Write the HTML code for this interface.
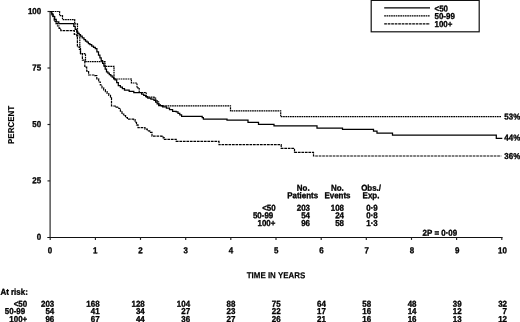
<!DOCTYPE html>
<html><head><meta charset="utf-8"><title>Survival by group</title>
<style>html,body{margin:0;padding:0;background:#fff}svg{display:block}text{font-family:"Liberation Sans",Arial,sans-serif;font-weight:bold;font-size:7.8px;text-rendering:geometricPrecision;fill:#000;stroke:#000;stroke-width:.3px}.e{text-anchor:end}.m{text-anchor:middle}</style>
</head><body>
<svg width="520" height="322" viewBox="0 0 520 322">
<rect width="520" height="322" fill="#fff"/>
<g stroke="#222" stroke-width="1.15" fill="none">
<path d="M50.1 11.5V237.5"/>
<path d="M47.3 237.45H502.6" stroke="#111"/>
<path d="M47.5 11.5H50.1"/>
<path d="M47.5 68.0H50.1"/>
<path d="M47.5 124.5H50.1"/>
<path d="M47.5 180.9H50.1"/>
<path d="M50.2 237.4V239.9"/>
<path d="M95.4 237.4V239.9"/>
<path d="M140.5 237.4V239.9"/>
<path d="M185.7 237.4V239.9"/>
<path d="M230.8 237.4V239.9"/>
<path d="M276.0 237.4V239.9"/>
<path d="M321.2 237.4V239.9"/>
<path d="M366.3 237.4V239.9"/>
<path d="M411.5 237.4V239.9"/>
<path d="M456.6 237.4V239.9"/>
<path d="M501.8 237.4V239.9"/>
</g>
<polyline points="50.2,11.5 59.6,11.5 59.6,15.7 62.5,15.7 62.5,19.6 74.7,19.6 74.7,23.9 76.6,23.9 77.5,23.9 77.5,36.0 79.8,36.0 79.8,40.0 79.8,47.0 80.5,47.0 80.5,53.6 84.8,53.6 84.8,54.8 85.5,54.8 85.5,61.7 105.0,61.7 105.0,66.4 114.0,66.4 114.0,79.0 131.4,79.0 131.4,83.0 137.0,83.0 137.0,87.9 139.2,87.9 139.2,92.5 146.2,92.5 146.2,97.2 154.0,97.2 154.0,98.0 155.6,98.0 155.6,100.0 157.1,100.0 157.1,101.9 158.6,101.9 158.6,103.8 160.2,103.8 160.2,105.8 230.5,105.8 230.5,110.9 280.7,110.9 280.7,116.7 501.5,116.7" fill="none" stroke="#000" stroke-width="1.2" stroke-dasharray="1.7 0.6"/>
<polyline points="50.2,11.5 52.2,11.5 52.2,16.4 54.2,16.4 54.2,21.3 55.9,21.3 55.9,23.6 57.5,23.6 57.5,26.0 59.1,26.0 59.1,28.3 60.8,28.3 60.8,30.6 72.4,30.6 74.3,30.6 74.3,34.4 76.7,34.4 76.7,36.0 77.4,36.0 77.4,38.0 77.4,47.0 79.4,47.0 79.4,49.4 80.5,49.4 80.5,53.6 82.4,53.6 82.4,60.2 84.8,60.2 84.8,67.2 86.7,67.2 86.7,71.1 88.6,71.1 88.6,75.0 94.8,75.0 94.8,75.7 96.8,75.7 96.8,78.8 98.7,78.8 98.7,82.0 100.3,82.0 100.3,85.0 102.0,85.0 102.0,87.9 103.7,87.9 103.7,89.8 105.4,89.8 105.4,91.6 107.1,91.6 107.1,93.5 108.8,93.5 108.8,95.3 110.5,95.3 110.5,97.2 111.5,97.2 111.5,106.0 115.2,106.0 115.2,107.2 118.8,107.2 118.8,108.5 120.4,108.5 120.4,111.2 122.0,111.2 122.0,114.0 123.8,114.0 123.8,115.7 125.6,115.7 125.6,117.5 127.4,117.5 127.4,119.2 133.6,119.2 133.6,119.6 135.1,119.6 135.1,122.3 136.5,122.3 136.5,124.9 138.0,124.9 138.0,127.6 145.0,127.6 145.0,129.2 147.3,129.2 147.3,130.8 149.7,130.8 149.7,132.3 152.0,132.3 152.0,136.2 162.0,136.2 162.0,136.4 163.2,136.4 163.2,137.9 164.4,137.9 164.4,139.3 176.2,139.3 176.2,141.3 219.0,141.3 219.0,144.7 281.2,144.7 281.2,148.4 294.5,148.4 294.5,152.3 313.5,152.3 313.5,156.0 501.3,156.0" fill="none" stroke="#000" stroke-width="1.2" stroke-dasharray="2.7 0.8"/>
<polyline points="50.2,11.5 51.7,11.5 51.7,14.1 53.2,14.1 53.2,16.7 54.7,16.7 54.7,19.3 56.2,19.3 56.2,21.9 58.8,21.9 58.8,23.6 72.4,23.6 73.8,23.6 73.8,26.4 75.2,26.4 75.2,29.3 76.7,29.3 76.7,32.1 77.9,32.1 77.9,33.4 79.2,33.4 79.2,34.7 80.5,34.7 80.5,36.0 82.2,36.0 82.2,37.9 84.0,37.9 84.0,39.7 85.5,39.7 85.5,41.0 87.0,41.0 87.0,42.2 88.4,42.2 88.4,43.5 89.9,43.5 89.9,44.7 91.7,44.7 91.7,46.0 93.5,46.0 93.5,47.3 95.3,47.3 95.3,48.6 96.9,48.6 96.9,51.8 98.5,51.8 98.5,55.0 99.9,55.0 99.9,57.8 101.2,57.8 101.2,60.5 102.6,60.5 102.6,63.3 103.9,63.3 103.9,66.1 105.2,66.1 105.2,69.0 106.5,69.0 106.5,71.8 107.9,71.8 107.9,73.1 109.3,73.1 109.3,74.5 110.8,74.5 110.8,75.8 112.2,75.8 112.2,77.1 113.6,77.1 113.6,78.5 115.0,78.5 115.0,79.8 116.7,79.8 116.7,82.7 118.3,82.7 118.3,85.5 120.4,85.5 120.4,87.1 122.4,87.1 122.4,88.6 124.5,88.6 124.5,90.2 129.2,90.2 129.2,91.3 133.8,91.3 133.8,92.5 141.6,92.5 141.6,94.0 143.7,94.0 143.7,95.3 145.7,95.3 145.7,96.7 147.8,96.7 147.8,98.0 150.9,98.0 150.9,99.2 154.0,99.2 154.0,100.3 155.6,100.3 155.6,102.0 157.1,102.0 157.1,103.8 158.7,103.8 158.7,105.5 162.6,105.5 162.6,106.8 166.4,106.8 166.4,108.0 169.5,108.0 169.5,109.7 172.6,109.7 172.6,111.4 176.2,111.4 176.2,111.8 178.0,111.8 178.0,113.3 179.8,113.3 179.8,114.9 181.6,114.9 181.6,116.4 201.0,116.4 202.2,116.4 202.2,117.7 203.4,117.7 203.4,119.0 226.0,119.0 227.0,119.0 227.0,120.2 247.0,120.2 248.0,120.2 248.0,122.4 257.0,122.4 258.5,122.4 258.5,124.4 272.5,124.4 274.0,124.4 274.0,125.9 316.0,125.9 317.0,125.9 317.0,128.2 341.5,128.2 342.5,128.2 342.5,129.4 372.6,129.4 373.5,129.4 373.5,131.0 376.0,131.0 377.0,131.0 377.0,133.0 391.5,133.0 392.5,133.0 392.5,135.2 495.5,135.2 496.3,135.2 496.3,138.3 502.3,138.3" fill="none" stroke="#000" stroke-width="1.25"/>
<rect x="371.2" y="0.4" width="108" height="31.4" fill="#fff" stroke="#111" stroke-width="1.2"/>
<path d="M384.2 7.8H430" stroke="#000" stroke-width="1.25"/>
<path d="M384.2 15.8H430" stroke="#000" stroke-width="1.2" stroke-dasharray="1.7 0.6"/>
<path d="M384.2 23.8H430" stroke="#000" stroke-width="1.2" stroke-dasharray="2.7 0.8"/>
<g transform="translate(-0.2 0)">
<text class="e" transform="translate(41.4 13.9) rotate(0.03) scale(1.02 1.1)">100</text>
<text class="e" transform="translate(41.4 70.4) rotate(0.03) scale(1.02 1.1)">75</text>
<text class="e" transform="translate(41.4 126.9) rotate(0.03) scale(1.02 1.1)">50</text>
<text class="e" transform="translate(41.4 183.3) rotate(0.03) scale(1.02 1.1)">25</text>
<text class="e" transform="translate(41.4 239.8) rotate(0.03) scale(1.02 1.1)">0</text>
<text class="m" transform="translate(50.2 253.3) rotate(0.03) scale(1.02 1.1)">0</text>
<text class="m" transform="translate(95.4 253.3) rotate(0.03) scale(1.02 1.1)">1</text>
<text class="m" transform="translate(140.7 253.3) rotate(0.03) scale(1.02 1.1)">2</text>
<text class="m" transform="translate(185.9 253.3) rotate(0.03) scale(1.02 1.1)">3</text>
<text class="m" transform="translate(231.2 253.3) rotate(0.03) scale(1.02 1.1)">4</text>
<text class="m" transform="translate(276.4 253.3) rotate(0.03) scale(1.02 1.1)">5</text>
<text class="m" transform="translate(321.6 253.3) rotate(0.03) scale(1.02 1.1)">6</text>
<text class="m" transform="translate(366.9 253.3) rotate(0.03) scale(1.02 1.1)">7</text>
<text class="m" transform="translate(412.1 253.3) rotate(0.03) scale(1.02 1.1)">8</text>
<text class="m" transform="translate(457.4 253.3) rotate(0.03) scale(1.02 1.1)">9</text>
<text class="m" transform="translate(502.6 253.3) rotate(0.03) scale(1.02 1.1)">10</text>
<text class="m" style="stroke-width:.15px;letter-spacing:.05px" transform="translate(14.3 124.9) rotate(-89.97) scale(1.02 1.1)">PERCENT</text>
<text class="m" style="stroke-width:.15px" transform="translate(276.2 278.2) rotate(0.03) scale(1.02 1.1)">TIME IN YEARS</text>
<text transform="translate(504.5 119.6) rotate(0.03) scale(1.02 1.1)">53%</text>
<text transform="translate(504.5 140.6) rotate(0.03) scale(1.02 1.1)">44%</text>
<text transform="translate(504.5 158.9) rotate(0.03) scale(1.02 1.1)">36%</text>
<text transform="translate(434.7 11.6) rotate(0.03) scale(1.02 1.1)">&lt;50</text>
<text transform="translate(434.7 19.0) rotate(0.03) scale(1.02 1.1)">50-99</text>
<text transform="translate(434.7 27.0) rotate(0.03) scale(1.02 1.1)">100+</text>
<text class="m" transform="translate(303.4 190.7) rotate(0.03) scale(1.02 1.1)">No.</text>
<text class="m" transform="translate(302.9 198.3) rotate(0.03) scale(1.02 1.1)">Patients</text>
<text class="m" transform="translate(337.5 190.7) rotate(0.03) scale(1.02 1.1)">No.</text>
<text class="m" transform="translate(337.7 198.3) rotate(0.03) scale(1.02 1.1)">Events</text>
<text class="m" transform="translate(371.3 190.7) rotate(0.03) scale(1.02 1.1)">Obs./</text>
<text class="m" transform="translate(371.2 198.3) rotate(0.03) scale(1.02 1.1)">Exp.</text>
<text class="e" transform="translate(275.9 210.8) rotate(0.03) scale(1.02 1.1)">&lt;50</text>
<text class="e" transform="translate(310.2 210.8) rotate(0.03) scale(1.02 1.1)">203</text>
<text class="e" transform="translate(344.2 210.8) rotate(0.03) scale(1.02 1.1)">108</text>
<text class="e" transform="translate(378 210.8) rotate(0.03) scale(1.02 1.1)">0·9</text>
<text class="e" transform="translate(273.5 218.2) rotate(0.03) scale(1.02 1.1)">50-99</text>
<text class="e" transform="translate(310.2 218.2) rotate(0.03) scale(1.02 1.1)">54</text>
<text class="e" transform="translate(344.2 218.2) rotate(0.03) scale(1.02 1.1)">24</text>
<text class="e" transform="translate(378 218.2) rotate(0.03) scale(1.02 1.1)">0·8</text>
<text class="e" transform="translate(275.6 226.0) rotate(0.03) scale(1.02 1.1)">100+</text>
<text class="e" transform="translate(310.2 226.0) rotate(0.03) scale(1.02 1.1)">96</text>
<text class="e" transform="translate(344.2 226.0) rotate(0.03) scale(1.02 1.1)">58</text>
<text class="e" transform="translate(378 226.0) rotate(0.03) scale(1.02 1.1)">1·3</text>
<text transform="translate(422.8 235.8) rotate(0.03) scale(1.02 1.1)">2P = 0·09</text>
<text transform="translate(0.6 294.7) rotate(0.03) scale(1.02 1.1)">At risk:</text>
<text class="e" transform="translate(27.4 306.8) rotate(0.03) scale(1.02 1.1)">&lt;50</text>
<text class="e" transform="translate(54.5 306.8) rotate(0.03) scale(1.02 1.1)">203</text>
<text class="e" transform="translate(99.8 306.8) rotate(0.03) scale(1.02 1.1)">168</text>
<text class="e" transform="translate(145.0 306.8) rotate(0.03) scale(1.02 1.1)">128</text>
<text class="e" transform="translate(190.3 306.8) rotate(0.03) scale(1.02 1.1)">104</text>
<text class="e" transform="translate(235.6 306.8) rotate(0.03) scale(1.02 1.1)">88</text>
<text class="e" transform="translate(280.9 306.8) rotate(0.03) scale(1.02 1.1)">75</text>
<text class="e" transform="translate(326.1 306.8) rotate(0.03) scale(1.02 1.1)">64</text>
<text class="e" transform="translate(371.4 306.8) rotate(0.03) scale(1.02 1.1)">58</text>
<text class="e" transform="translate(416.7 306.8) rotate(0.03) scale(1.02 1.1)">48</text>
<text class="e" transform="translate(461.9 306.8) rotate(0.03) scale(1.02 1.1)">39</text>
<text class="e" transform="translate(507.2 306.8) rotate(0.03) scale(1.02 1.1)">32</text>
<text class="e" transform="translate(25.4 313.9) rotate(0.03) scale(1.02 1.1)">50-99</text>
<text class="e" transform="translate(54.5 313.9) rotate(0.03) scale(1.02 1.1)">54</text>
<text class="e" transform="translate(99.8 313.9) rotate(0.03) scale(1.02 1.1)">41</text>
<text class="e" transform="translate(145.0 313.9) rotate(0.03) scale(1.02 1.1)">34</text>
<text class="e" transform="translate(190.3 313.9) rotate(0.03) scale(1.02 1.1)">27</text>
<text class="e" transform="translate(235.6 313.9) rotate(0.03) scale(1.02 1.1)">23</text>
<text class="e" transform="translate(280.9 313.9) rotate(0.03) scale(1.02 1.1)">22</text>
<text class="e" transform="translate(326.1 313.9) rotate(0.03) scale(1.02 1.1)">17</text>
<text class="e" transform="translate(371.4 313.9) rotate(0.03) scale(1.02 1.1)">16</text>
<text class="e" transform="translate(416.7 313.9) rotate(0.03) scale(1.02 1.1)">14</text>
<text class="e" transform="translate(461.9 313.9) rotate(0.03) scale(1.02 1.1)">12</text>
<text class="e" transform="translate(507.2 313.9) rotate(0.03) scale(1.02 1.1)">7</text>
<text class="e" transform="translate(27.4 322.0) rotate(0.03) scale(1.02 1.1)">100+</text>
<text class="e" transform="translate(54.5 322.0) rotate(0.03) scale(1.02 1.1)">96</text>
<text class="e" transform="translate(99.8 322.0) rotate(0.03) scale(1.02 1.1)">67</text>
<text class="e" transform="translate(145.0 322.0) rotate(0.03) scale(1.02 1.1)">44</text>
<text class="e" transform="translate(190.3 322.0) rotate(0.03) scale(1.02 1.1)">36</text>
<text class="e" transform="translate(235.6 322.0) rotate(0.03) scale(1.02 1.1)">27</text>
<text class="e" transform="translate(280.9 322.0) rotate(0.03) scale(1.02 1.1)">26</text>
<text class="e" transform="translate(326.1 322.0) rotate(0.03) scale(1.02 1.1)">21</text>
<text class="e" transform="translate(371.4 322.0) rotate(0.03) scale(1.02 1.1)">16</text>
<text class="e" transform="translate(416.7 322.0) rotate(0.03) scale(1.02 1.1)">16</text>
<text class="e" transform="translate(461.9 322.0) rotate(0.03) scale(1.02 1.1)">13</text>
<text class="e" transform="translate(507.2 322.0) rotate(0.03) scale(1.02 1.1)">12</text>
</g>
</svg>
</body></html>
